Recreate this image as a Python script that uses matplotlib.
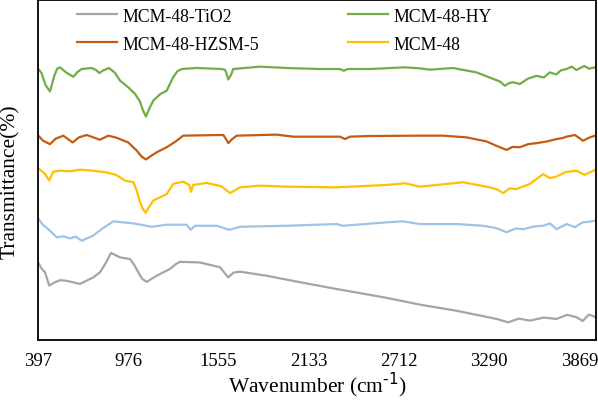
import matplotlib
matplotlib.use("Agg")
import matplotlib.pyplot as plt

# ─── Données ──────────────────────────────────────────────────────────────────

wn_hy = [399, 420, 445, 474, 500, 520, 538, 580, 623, 650, 677, 741, 770, 790, 815, 852,
         890, 923, 976, 1019, 1050, 1070, 1089, 1110, 1136, 1180, 1222, 1264, 1290, 1318,
         1414, 1574, 1595, 1605, 1617, 1634, 1649, 1820, 1991, 2205, 2333, 2358, 2384,
         2525, 2750, 2846, 2910, 3057, 3209, 3316, 3360, 3390, 3420, 3444, 3487, 3540,
         3594, 3640, 3679, 3720, 3750, 3786, 3820, 3850, 3871, 3900, 3930, 3969]
t_hy = [79.7, 78.5, 75.0, 73.1, 77.5, 79.8, 80.2, 78.6, 77.4, 78.8, 79.7, 80.0, 79.4, 78.5,
        79.3, 80.0, 78.6, 76.3, 74.3, 72.4, 70.2, 67.6, 65.7, 68.0, 70.4, 72.3, 73.3, 77.3,
        79.0, 79.7, 80.0, 79.7, 79.5, 78.5, 76.6, 77.9, 79.7, 80.4, 80.0, 79.7, 79.7, 79.2,
        79.7, 79.7, 80.2, 79.9, 79.5, 80.0, 78.7, 76.8, 76.0, 74.8, 75.6, 75.8, 75.3, 76.9,
        77.7, 77.2, 78.7, 78.1, 79.3, 79.7, 80.4, 79.4, 79.9, 80.6, 79.8, 80.2]

wn_hzsm = [399, 430, 474, 510, 559, 619, 660, 709, 794, 848, 900, 976, 1030, 1060, 1089,
           1120, 1158, 1222, 1280, 1328, 1585, 1600, 1617, 1640, 1671, 1927, 2034, 2333,
           2365, 2397, 2525, 2846, 2995, 3145, 3273, 3337, 3401, 3440, 3487, 3540, 3594,
           3660, 3722, 3760, 3786, 3840, 3892, 3930, 3969]
t_hzsm = [60.1, 58.6, 57.6, 59.2, 60.1, 58.1, 59.6, 60.3, 58.9, 60.1, 59.5, 58.1, 55.7, 54.0,
          53.1, 54.1, 55.2, 56.7, 58.4, 60.1, 60.3, 59.3, 57.9, 59.0, 60.1, 60.4, 59.8, 59.8,
          59.1, 59.8, 60.0, 60.1, 60.1, 59.6, 58.4, 57.1, 55.9, 56.8, 56.7, 57.6, 57.9, 58.4,
          59.1, 59.4, 59.8, 60.3, 58.6, 59.5, 60.1]

wn_mcm = [403, 440, 469, 495, 540, 600, 666, 750, 837, 900, 955, 1008, 1030, 1051, 1070,
          1087, 1105, 1136, 1180, 1222, 1264, 1328, 1367, 1378, 1392, 1478, 1574, 1628,
          1692, 1820, 1991, 2312, 2632, 2750, 2846, 3123, 3294, 3340, 3380, 3420, 3465,
          3551, 3636, 3680, 3722, 3780, 3850, 3900, 3935, 3974]
t_mcm = [50.3, 49.0, 46.9, 49.5, 49.8, 49.6, 50.1, 49.8, 49.3, 48.5, 46.9, 46.4, 44.0, 40.5,
         38.5, 37.4, 38.8, 41.0, 42.0, 42.9, 45.9, 46.6, 45.6, 43.6, 45.6, 46.2, 45.2, 43.2,
         44.9, 45.4, 45.1, 44.9, 45.6, 46.1, 45.1, 46.4, 44.9, 44.3, 43.2, 44.6, 44.4,
         45.9, 48.8, 47.6, 48.1, 49.4, 49.8, 48.6, 49.3, 50.1]

wn_blue = [403, 430, 463, 517, 560, 602, 640, 677, 751, 810, 880, 1008, 1126, 1222, 1350,
           1376, 1403, 1542, 1623, 1692, 1991, 2312, 2352, 2632, 2737, 2846, 3081, 3251,
           3337, 3401, 3460, 3508, 3580, 3636, 3680, 3722, 3786, 3840, 3890, 3935, 3974]
t_blue = [35.4, 33.8, 32.6, 30.2, 30.5, 29.9, 30.4, 29.2, 30.7, 32.8, 34.9, 34.3, 33.3,
          33.9, 33.9, 32.4, 33.6, 33.6, 32.4, 33.3, 33.6, 34.1, 33.6, 34.6, 34.9, 34.1,
          34.1, 33.6, 32.9, 31.7, 32.8, 32.6, 33.4, 33.6, 34.3, 32.6, 34.1, 33.2, 34.6,
          34.8, 35.1]

wn_tio2 = [403, 420, 442, 469, 506, 540, 581, 666, 751, 794, 830, 865, 923, 987, 1015, 1040,
           1065, 1094, 1158, 1243, 1280, 1307, 1435, 1564, 1617, 1650, 1692, 1863, 2076,
           2312, 2632, 2846, 3081, 3337, 3412, 3480, 3551, 3640, 3722, 3790, 3850, 3890,
           3930, 3974]
t_tio2 = [22.4, 21.0, 19.9, 16.0, 17.0, 17.6, 17.4, 16.5, 18.4, 19.9, 22.5, 25.6, 24.3, 23.8,
          22.0, 19.9, 18.0, 17.1, 18.9, 20.9, 22.3, 23.0, 22.8, 21.4, 18.4, 19.8, 20.1,
          18.9, 17.0, 15.0, 12.4, 10.4, 8.6, 6.2, 5.2, 6.3, 5.7, 6.6, 6.2, 7.4, 6.7, 5.6,
          7.5, 6.7]

xticks = [397, 976, 1555, 2133, 2712, 3290, 3869]

# ─── Figure ───────────────────────────────────────────────────────────────────

plt.rcParams["font.family"] = ["Liberation Serif", "DejaVu Serif"]

fig = plt.figure(figsize=(5.98, 4.02), dpi=100)
ax = fig.add_axes([38 / 598, 61 / 402, 558 / 598, 340 / 402])

lw = 1.6
h_tio2, = ax.plot(wn_tio2, t_tio2, color="#A5A5A5", lw=lw, label="MCM-48-TiO2")
h_hzsm, = ax.plot(wn_hzsm, t_hzsm, color="#C55A11", lw=lw, label="MCM-48-HZSM-5")
h_hy, = ax.plot(wn_hy, t_hy, color="#70AD47", lw=lw, label="MCM-48-HY")
h_mcm, = ax.plot(wn_mcm, t_mcm, color="#FFC000", lw=lw, label="MCM-48")
ax.plot(wn_blue, t_blue, color="#9DC3E6", lw=lw)

ax.set_xlim(397, 3975)
ax.set_ylim(0, 100)
ax.set_xticks(xticks)
ax.set_xticklabels([str(v) for v in xticks])
ax.set_yticks([])
ax.tick_params(axis="x", length=0, pad=9, labelsize=13.5)

for s in ax.spines.values():
    s.set_linewidth(1.3)
    s.set_color("black")

ax.set_xlabel("Wavenumber (cm$^{\\text{-1}}$)", fontsize=15.5, labelpad=0)
ax.set_ylabel("Transmittance(%)", fontsize=15.5)
ax.yaxis.set_label_coords(-0.032, 0.47)

ax.legend(handles=[h_tio2, h_hzsm, h_hy, h_mcm], ncol=2, frameon=False,
          loc="upper left", bbox_to_anchor=(0.042, 1.025), fontsize=12.8,
          handlelength=2.2, handletextpad=0.35, columnspacing=5.0,
          labelspacing=0.62)

fig.savefig("out.png", dpi=100)
